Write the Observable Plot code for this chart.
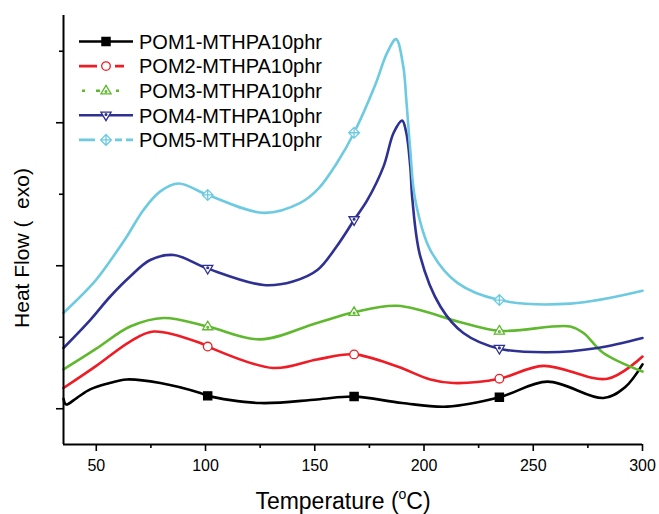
<!DOCTYPE html>
<html><head><meta charset="utf-8">
<script src="https://cdn.jsdelivr.net/npm/d3@7"></script>
<script src="https://cdn.jsdelivr.net/npm/@observablehq/plot@0.6"></script>
<style>body{margin:0;background:#fff} svg{display:block}</style>
</head><body><div id="chart"></div>
<script>
const seriesNames = ["POM1-MTHPA10phr","POM2-MTHPA10phr","POM3-MTHPA10phr","POM4-MTHPA10phr","POM5-MTHPA10phr"];
const seriesColors = ["#000000","#ee1c25","#5fb82e","#2e3192","#6dcae0"];

const pom1T = [35,36.2,41,47.2,55,64,79.3,97.6,101,125,151,168,190,210.7,234.5,256.5,282.1,292,300];
const pom1V = [0.14,0.06,0.15,0.27,0.35,0.41,0.36,0.22,0.18,0.08,0.13,0.17,0.08,0.03,0.16,0.38,0.15,0.30,0.62];
const pom2T = [35,50,65.5,76.2,97.6,101,131,151,168,187.8,202.9,213.4,234.5,254.6,284,300];
const pom2V = [0.29,0.60,0.94,1.08,0.92,0.87,0.57,0.69,0.76,0.59,0.41,0.36,0.42,0.60,0.42,0.73];
const pom3T = [35,50,65.5,80.8,101,125,151,168,187.8,218,234.5,267,273,282.1,300];
const pom3V = [0.55,0.84,1.15,1.27,1.15,0.97,1.20,1.35,1.44,1.20,1.09,1.15,1.06,0.78,0.52];
const pom4T = [35,47.2,56.4,65.5,74.7,85.4,101,126.6,140,151.2,160,168,174.1,181.5,186.1,190,191.9,193.7,194.7,198.3,207.5,218,234.5,256.5,279.4,300];
const pom4V = [0.85,1.24,1.57,1.85,2.08,2.15,1.96,1.73,1.78,1.94,2.27,2.64,2.92,3.39,3.86,4.03,3.86,3.39,2.92,2.13,1.43,1.06,0.84,0.79,0.85,0.99];
const pom5T = [35,48.7,56.4,64,71.6,79.3,87.7,101,126.6,143.4,152,160.2,168,177.7,183,187.2,190.5,191.9,193.7,196,202.9,215.3,234.5,267,300];
const pom5V = [1.34,1.76,2.07,2.41,2.78,3.04,3.15,2.99,2.74,2.88,3.09,3.44,3.86,4.53,4.97,5.17,4.79,4.32,3.62,2.92,2.22,1.76,1.52,1.47,1.65];

const markerTemps = [101,168,234.5];
const xTicks = [50,100,150,200,250,300];
const xMinorTicks = [75,125,175,225,275];
const yMajorTicks = [0,2,4];
const yMinorTicks = [1,3,5];
const xDomain = [35,300];
const yDomain = [-0.5,5.5];
const xLabel = "Temperature (";
const xLabelSup = "o";
const xLabelEnd = "C)";
const yLabel = "Heat Flow (  exo)";

const temps = [pom1T,pom2T,pom3T,pom4T,pom5T];
const vals = [pom1V,pom2V,pom3V,pom4V,pom5V];
const rows = seriesNames.flatMap((s,i)=>temps[i].map((t,j)=>({series:s,T:t,v:vals[i][j]})));
const markerRows = rows.filter(d=>markerTemps.includes(d.T));

function rad(size){return Math.sqrt(size/Math.PI);}
const symSquare = {draw(c,s){const r=rad(s)*0.95;c.rect(-r,-r,2*r,2*r);}};
const symCircle = {draw(c,s){const r=rad(s);c.moveTo(r,0);c.arc(0,0,r,0,2*Math.PI);}};
const symTriUp = {draw(c,s){const r=rad(s)*1.25;c.moveTo(0,-r);c.lineTo(r*0.95,r*0.6);c.lineTo(-r*0.95,r*0.6);c.closePath();c.moveTo(0.9,r*0.15);c.arc(0,r*0.15,0.9,0,2*Math.PI);}};
const symTriDown = {draw(c,s){const r=rad(s)*1.25;c.moveTo(0,r);c.lineTo(r*0.95,-r*0.6);c.lineTo(-r*0.95,-r*0.6);c.closePath();c.moveTo(0.9,-r*0.15);c.arc(0,-r*0.15,0.9,0,2*Math.PI);}};
const symDiamondCross = {draw(c,s){const r=rad(s)*1.25;c.moveTo(0,-r);c.lineTo(r,0);c.lineTo(0,r);c.lineTo(-r,0);c.closePath();c.moveTo(0,-r);c.lineTo(0,r);c.moveTo(-r,0);c.lineTo(r,0);}};
const symbols = [symSquare,symCircle,symTriUp,symTriDown,symDiamondCross];
const fills = ["#000000","#ffffff","#ffffff","#ffffff","#ffffff"];

const fontFamily = "Arial, 'Liberation Sans', sans-serif";

const plot = Plot.plot({
  width: 659, height: 514,
  marginLeft: 63, marginRight: 17, marginTop: 15, marginBottom: 70,
  style: {fontFamily, fontSize: "16px", color: "#000", background: "#fff"},
  x: {domain: xDomain},
  y: {domain: yDomain},
  color: {domain: seriesNames, range: seriesColors},
  marks: [
    Plot.line(rows, {x:"T", y:"v", z:"series", stroke:"series", curve:"catmull-rom", strokeWidth:2.6}),
    ...seriesNames.map((s,i)=>Plot.dot(markerRows.filter(d=>d.series===s), {x:"T", y:"v", r:4.3, symbol: symbols[i], stroke: seriesColors[i], fill: fills[i], strokeWidth:1.3})),
    Plot.axisX(xTicks, {tickSize:7, tickPadding:8, strokeWidth:1.6, fontSize:16, label:null}),
    Plot.axisX(xMinorTicks, {tickSize:4, strokeWidth:1.6, tickFormat:()=>"", label:null}),
    Plot.axisY(yMajorTicks, {tickSize:7, strokeWidth:1.6, tickFormat:()=>"", label:null}),
    Plot.axisY(yMinorTicks, {tickSize:4, strokeWidth:1.6, tickFormat:()=>"", label:null}),
    Plot.ruleX([xDomain[0]], {strokeWidth:2}),
    Plot.ruleY([yDomain[0]], {strokeWidth:2})
  ]
});
document.getElementById("chart").appendChild(plot);

const svg = d3.select(plot);
// axis labels
const xt = svg.append("text").attr("x", 343).attr("y", 509).attr("text-anchor","middle")
  .attr("font-size", 23).attr("font-family", fontFamily).attr("fill","#000");
xt.append("tspan").text(xLabel);
xt.append("tspan").attr("font-size",14).attr("dy",-10).text(xLabelSup);
xt.append("tspan").attr("dy",10).text(xLabelEnd);
svg.append("text").attr("transform","translate(29,248) rotate(-90)").attr("text-anchor","middle")
  .attr("font-size",21).attr("font-family",fontFamily).attr("fill","#000").text(yLabel);

// legend
const legendDash = [null, "18 18 9 200", "3 11 4 16 3 200", null, "16 20 7 4 7 200"];
const legendStart = [79, 79, 82, 79, 79];
const lg = svg.append("g");
seriesNames.forEach((s,i)=>{
  const y = 41.5 + i*24.6;
  lg.append("line").attr("x1",legendStart[i]).attr("x2",133).attr("y1",y).attr("y2",y)
    .attr("stroke",seriesColors[i]).attr("stroke-width",2.6).attr("stroke-dasharray",legendDash[i]);
  const area = Math.PI*4.3*4.3;
  lg.append("path").attr("transform",`translate(106,${y})`).attr("d", d3.symbol(symbols[i], area)())
    .attr("fill",fills[i]).attr("stroke",seriesColors[i]).attr("stroke-width",1.3);
  lg.append("text").attr("x",139).attr("y",y).attr("dy","0.36em").attr("font-size",20)
    .attr("text-anchor","start")
    .attr("font-family",fontFamily).attr("fill","#000").text(s);
});
</script></body></html>
